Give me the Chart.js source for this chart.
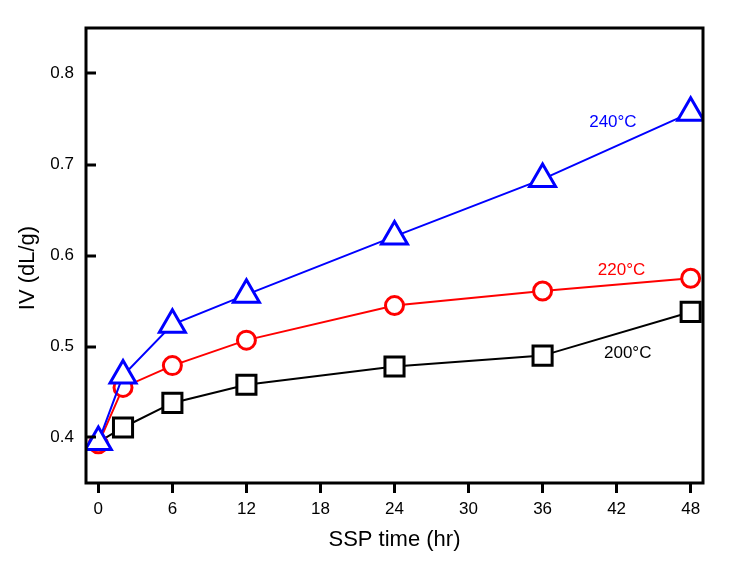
<!DOCTYPE html>
<html>
<head>
<meta charset="utf-8">
<script src="https://cdn.jsdelivr.net/npm/chart.js@4"></script>
<style>
  body { margin: 0; background: #fff; }
  #wrap { width: 732px; height: 571px; }
</style>
</head>
<body>
<div id="wrap"><canvas id="ivChart" width="732" height="571"></canvas></div>
<script>
const hours = [0, 2, 6, 12, 24, 36, 48];
const iv240 = [0.395, 0.468, 0.524, 0.557, 0.621, 0.684, 0.757];
const iv220 = [0.393, 0.455, 0.479, 0.507, 0.545, 0.561, 0.575];
const iv200 = [0.395, 0.411, 0.438, 0.458, 0.478, 0.490, 0.538];
const xTicks = [0, 6, 12, 18, 24, 30, 36, 42, 48];
const yTicks = [0.4, 0.5, 0.6, 0.7, 0.8];
const seriesNames = ['240°C', '220°C', '200°C'];

const font = 'Liberation Sans, Arial, sans-serif';

const toPoints = (ys) => hours.map((h, i) => ({ x: h, y: ys[i] }));

// labels beside the curves, anchored in data units
const curveLabels = [
    { text: seriesNames[0], x: 41.7, y: 0.746, color: '#0000ff' },
    { text: seriesNames[1], x: 42.4, y: 0.584, color: '#ff0000' },
    { text: seriesNames[2], x: 42.9, y: 0.493, color: '#000000' }
];

const framePlugin = {
    id: 'frame',
    afterDraw(chart) {
        const { ctx, chartArea: a, scales } = chart;
        ctx.save();
        ctx.strokeStyle = '#000';
        ctx.lineWidth = 3;
        ctx.strokeRect(a.left, a.top, a.right - a.left, a.bottom - a.top);

        // inward ticks on the y axis
        yTicks.forEach(v => {
            const py = Math.round(scales.y.getPixelForValue(v));
            ctx.beginPath();
            ctx.moveTo(a.left, py);
            ctx.lineTo(a.left + 10, py);
            ctx.stroke();
        });

        ctx.font = '17px ' + font;
        ctx.textAlign = 'center';
        ctx.textBaseline = 'middle';
        curveLabels.forEach(l => {
            ctx.fillStyle = l.color;
            ctx.fillText(l.text, scales.x.getPixelForValue(l.x), scales.y.getPixelForValue(l.y));
        });

        // y axis title
        ctx.fillStyle = '#000';
        ctx.font = '22px ' + font;
        ctx.translate(28, 268);
        ctx.rotate(-Math.PI / 2);
        ctx.fillText('IV (dL/g)', 0, 0);
        ctx.restore();
    }
};

// the 200°C marker at t=0 is hidden under the other two in the original
const series = (label, ys, color, style, radius, z, hideFirst) => ({
    label,
    data: toPoints(ys),
    borderColor: color,
    backgroundColor: '#fff',
    borderWidth: 2,
    pointStyle: style,
    pointRadius: hideFirst ? hours.map((h, i) => (i === 0 ? 0 : radius)) : radius,
    pointBorderWidth: 3,
    pointBorderColor: color,
    pointBackgroundColor: '#fff',
    tension: 0,
    order: z
});

new Chart(document.getElementById('ivChart').getContext('2d'), {
    type: 'line',
    data: {
        datasets: [
            series(seriesNames[0], iv240, '#0000ff', 'triangle', 15, 1, false),
            series(seriesNames[1], iv220, '#ff0000', 'circle', 9, 2, false),
            series(seriesNames[2], iv200, '#000000', 'rect', 13.5, 3, true)
        ]
    },
    options: {
        responsive: false,
        animation: false,
        layout: { padding: { left: 0, top: 28, right: 29, bottom: 0 } },
        plugins: {
            legend: { display: false },
            tooltip: { enabled: false }
        },
        scales: {
            x: {
                type: 'linear',
                min: -1,
                max: 49,
                afterBuildTicks: (s) => { s.ticks = xTicks.map(v => ({ value: v })); },
                afterFit: (s) => { s.height = 88; },
                border: { display: false },
                grid: {
                    drawOnChartArea: false,
                    drawTicks: true,
                    tickLength: 10,
                    tickWidth: 3,
                    tickColor: '#000'
                },
                ticks: {
                    color: '#000',
                    padding: 6,
                    maxRotation: 0,
                    font: { family: font, size: 17 }
                },
                title: {
                    display: true,
                    text: 'SSP time (hr)',
                    color: '#000',
                    font: { family: font, size: 22 },
                    padding: { top: 0, bottom: 18 }
                }
            },
            y: {
                type: 'linear',
                min: 0.35,
                max: 0.85,
                afterBuildTicks: (s) => { s.ticks = yTicks.map(v => ({ value: v })); },
                afterFit: (s) => { s.width = 86; },
                border: { display: false },
                grid: { drawOnChartArea: false, drawTicks: false },
                ticks: {
                    color: '#000',
                    padding: 12,
                    font: { family: font, size: 17 },
                    callback: (v) => v.toFixed(1)
                }
            }
        }
    },
    plugins: [framePlugin]
});
</script>
</body>
</html>
